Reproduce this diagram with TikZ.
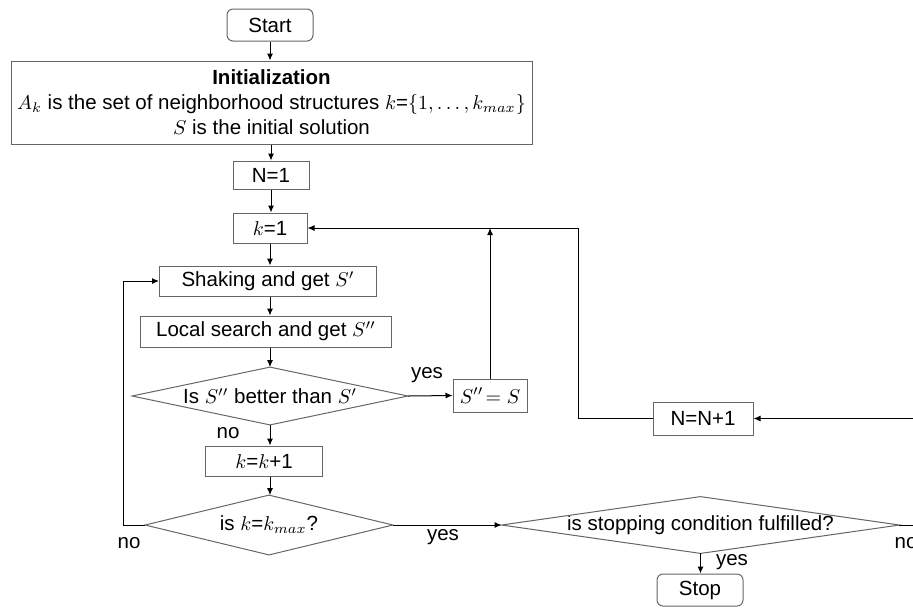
\documentclass[tikz,border=0pt]{standalone}
\usepackage{fontspec}
\setmainfont{Liberation Sans}
\usetikzlibrary{arrows.meta}

\tikzset{
  box/.style={draw=black!60, line width=0.5pt, inner sep=0pt, align=center},
  termbox/.style={box, rounded corners=3pt},
  decision/.style={inner sep=0pt, align=center},
  arrow/.style={-{Latex[length=3.5pt,width=3pt]}, line width=0.5pt},
  lbl/.style={inner sep=0pt}
}

\begin{document}
\begin{tikzpicture}[x=0.5pt, y=-0.5pt, font=\fontsize{10.25}{12.5}\selectfont]
  \useasboundingbox (0,0) rectangle (913,607);
  \clip (0,0) rectangle (913,607);

  % main column
  \node [termbox, minimum width=43pt, minimum height=16pt] (start) at (270,25) {Start};
  \node [box, minimum width=260.5pt, minimum height=41.5pt] (init) at (271.5,102.5)
    {\textbf{Initialization}\\
     $A_k$ is the set of neighborhood structures $k$=$\{1,\dots,k_{max}\}$\\
     $S$ is the initial solution};
  \node [box, minimum width=38pt, minimum height=14pt] (n1) at (271,175) {N=1};
  \node [box, minimum width=37pt, minimum height=15pt] (k1) at (270,228) {$k$=1};
  \node [box, minimum width=108.5pt, minimum height=15pt] (shake) at (268,281) {Shaking and get $S'$};
  \node [box, minimum width=125.5pt, minimum height=15.5pt] (local) at (266,331.5) {Local search and get $S''$};
  \node [decision, minimum width=137.5pt, minimum height=28.5pt] (better) at (270,396) {Is $S''$ better than $S'$};
  \node [box, minimum width=37pt, minimum height=16.5pt] (swap) at (490,395.5) {$S''\!= S$};
  \node [box, minimum width=58.5pt, minimum height=15pt] (kinc) at (264,461) {$k$=$k$+1};
  \node [decision, minimum width=123.5pt, minimum height=29.5pt] (kmax) at (269,525) {is $k$=$k_{max}$?};

  % right part
  \node [decision, minimum width=198.5pt, minimum height=28pt] (cond) at (700.5,525) {is stopping condition fulfilled?};
  \node [termbox, minimum width=43pt, minimum height=16pt] (stop) at (700,590) {Stop};
  \node [box, minimum width=50pt, minimum height=16.5pt] (ninc) at (703,418.5) {N=N+1};

  \foreach \d in {better, kmax, cond}
    \draw [box] (\d.west) -- (\d.north) -- (\d.east) -- (\d.south) -- cycle;

  % labels
  \node [lbl] (yesbetter) at (427,375) {yes};
  \node [lbl] (nobetter) at (228,433) {no};
  \node [lbl] (yeskmax) at (443,537) {yes};
  \node [lbl] (nokmax) at (129,543) {no};
  \node [lbl] (yescond) at (732,562) {yes};
  \node [lbl] (nocond) at (906,543) {no};

  % arrows
  \draw [arrow] (start.south) -- (start.south |- init.north);
  \draw [arrow] (init.south -| n1.south) -- (n1.north);
  \draw [arrow] (n1.south) -- (n1.south |- k1.north);
  \draw [arrow] (k1.south) -- (k1.south |- shake.north);
  \draw [arrow] (k1.south |- shake.south) -- (k1.south |- local.north);
  \draw [arrow] (k1.south |- local.south) -- (k1.south |- better.north);
  \draw [arrow] (better.east) -- (swap.west);
  \draw [arrow] (better.south) -- (better.south |- kinc.north);
  \draw [arrow] (better.south |- kinc.south) -- (better.south |- kmax.north);
  \draw [arrow] (kmax.east) -- (cond.west);
  \draw [arrow] (cond.south) -- (cond.south |- stop.north);

  % loops
  \draw [arrow] (kmax.west) -- ++(-22,0) |- (shake.west);
  \draw [arrow] (swap.north) -- (swap.north |- k1.east);
  \draw [arrow] (ninc.west) -- ++(-74,0) |- (k1.east);
  \draw [arrow] (cond.east) -- ++(30,0) |- (ninc.east);
\end{tikzpicture}
\end{document}
